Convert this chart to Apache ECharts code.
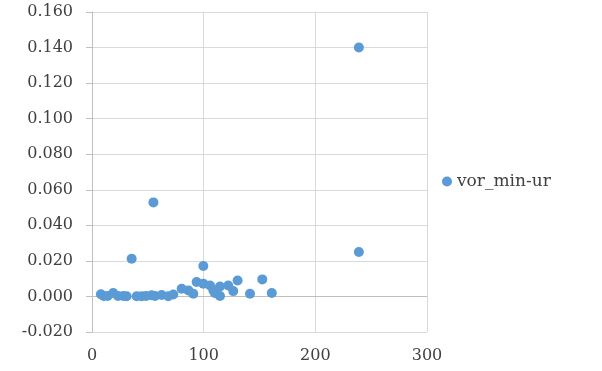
<!DOCTYPE html>
<html>
<head>
<meta charset="utf-8">
<script src="https://cdn.jsdelivr.net/npm/echarts@6/dist/echarts.min.js"></script>
<style>html,body{margin:0;padding:0;background:#fff;}#c{width:602px;height:371px;}</style>
</head>
<body>
<div id="c"></div>
<script>
const seriesName = 'vor_min-ur';
const xValues = [8, 10.5, 14, 19, 23.3, 28, 31, 35.5, 40, 44.5, 48.4, 53.4, 55, 56.4, 62.4, 68.3, 72.8, 80.3, 86.3, 90.7, 93.7, 99.7, 99.7, 105.7, 108.7, 110, 114.6, 114.6, 122, 126.5, 130.4, 141.5, 152.5, 161, 239, 239];
const yValues = [0.0012, 0.0003, 0.0002, 0.0019, 0.0003, 0.0002, 0.0001, 0.0212, 0.0001, 0.0001, 0.0002, 0.0007, 0.0529, 0.0002, 0.0008, 0.0001, 0.0011, 0.0043, 0.0034, 0.0015, 0.0081, 0.0171, 0.0072, 0.0062, 0.0034, 0.0019, 0.0056, 0.0002, 0.0062, 0.0030, 0.0090, 0.0015, 0.0096, 0.0019, 0.140, 0.025];
const xTicks = {min: 0, max: 300, interval: 100};
const yTicks = {min: -0.02, max: 0.16, interval: 0.02};

const font = 'DejaVu Serif';
const chart = echarts.init(document.getElementById('c'), null, {renderer: 'canvas'});
chart.setOption({
  animation: false,
  textStyle: {fontFamily: font},
  grid: {left: 92, right: 175, top: 12, bottom: 39},
  legend: {
    data: [seriesName], orient: 'vertical', left: 437, top: 168,
    itemWidth: 10, itemHeight: 10, itemGap: 5,
    textStyle: {fontFamily: font, fontSize: 17, color: '#404040'}
  },
  xAxis: {
    type: 'value', min: xTicks.min, max: xTicks.max, interval: xTicks.interval,
    axisLine: {show: false, onZero: false},
    axisTick: {show: false},
    axisLabel: {fontFamily: font, fontSize: 16, color: '#404040', margin: 16},
    splitLine: {show: true, lineStyle: {color: '#D9D9D9', width: 1}}
  },
  yAxis: {
    type: 'value', min: yTicks.min, max: yTicks.max, interval: yTicks.interval,
    axisLine: {show: true, lineStyle: {color: '#BFBFBF', width: 1}},
    axisTick: {show: true, length: 6, lineStyle: {color: '#BFBFBF'}},
    axisLabel: {fontFamily: font, fontSize: 16, color: '#404040', margin: 19,
      formatter: v => v.toFixed(3)},
    splitLine: {show: true, lineStyle: {color: '#D9D9D9', width: 1}}
  },
  series: [{
    name: seriesName, type: 'scatter', symbol: 'circle', symbolSize: 10,
    itemStyle: {color: '#5B9BD5', opacity: 1},
    data: xValues.map((x, i) => [x, yValues[i]]),
    markLine: {
      silent: true, symbol: ['none', 'none'], label: {show: false},
      lineStyle: {color: '#BFBFBF', width: 1, type: 'solid'},
      data: [{yAxis: 0}], z: 1
    }
  }]
});
</script>
</body>
</html>
